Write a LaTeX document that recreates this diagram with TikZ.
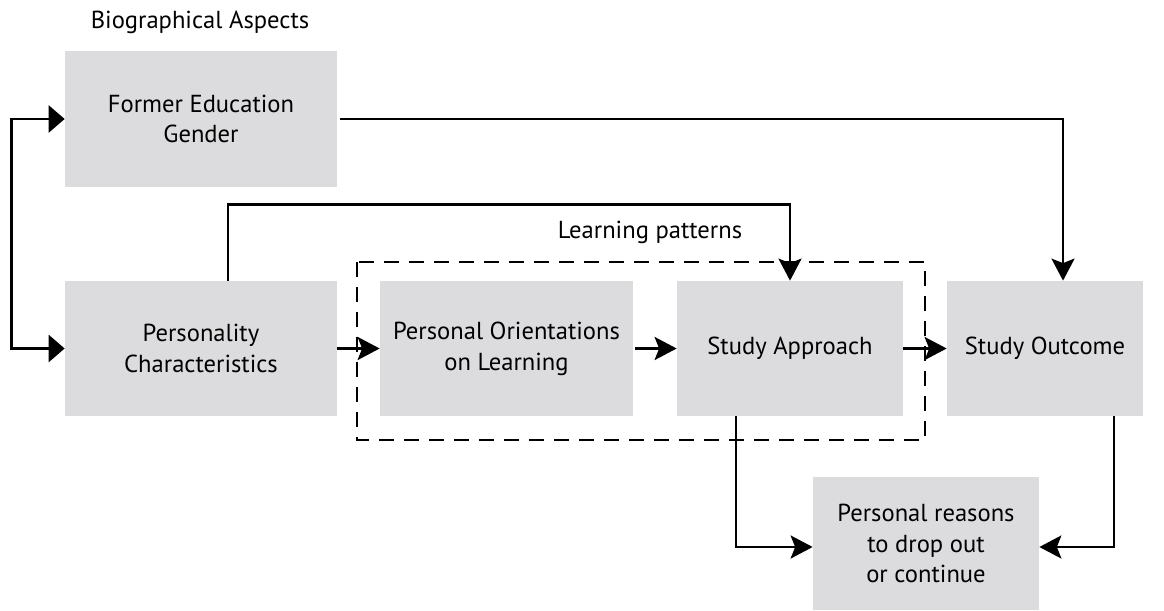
\documentclass[tikz,border=0pt]{standalone}
\usepackage{fontspec}
\setmainfont{PT Sans}
\usetikzlibrary{arrows.meta}
\definecolor{boxgray}{RGB}{220,220,222}
\tikzset{
  factor/.style={fill=boxgray, align=center, inner sep=0pt, minimum height=27mm},
  link/.style={line width=1.5pt, -{Stealth[length=4.4mm,width=4.6mm,inset=0.9mm]}},
  caption/.style={inner sep=0pt}
}
\begin{document}
\begin{tikzpicture}[x=0.2mm, y=-0.2mm, font=\fontsize{14}{17.5}\selectfont]
    \useasboundingbox (0,0) rectangle (1164,610);
    % boxes
    \node[factor, minimum width=54.4mm] (former) at (201,119) {Former Education\\Gender};
    \node[factor, minimum width=54.4mm] (person) at (201,348.5) {Personality\\Characteristics};
    \node[factor, minimum width=50.6mm] (orient) at (506.5,348.5) {Personal Orientations\\on Learning};
    \node[factor, minimum width=45.2mm] (approach) at (790,348.5) {Study Approach};
    \node[factor, minimum width=39.2mm] (outcome) at (1045,348.5) {Study Outcome};
    \node[factor, minimum width=45.2mm, minimum height=26.6mm] (reasons) at (926,543.5) {Personal reasons\\to drop out\\or continue};
    % labels
    \node[caption] (bio) at (200,22) {Biographical Aspects};
    \node[caption] (patterns) at (650,232) {Learning patterns};
    % learning patterns frame
    \draw[line width=1.5pt, dash pattern=on 3mm off 2mm] (357,262) rectangle (925,440);
    % biography and personality
    \draw[line width=1.5pt, {Triangle[length=3.2mm,width=5.4mm]}-{Triangle[length=3.2mm,width=5.4mm]}] (former.west) -- ++(-53,0) |- (person.west);
    % direct paths
    \draw[link] ([xshift=0.6mm]former.east) -| ([xshift=3.6mm]outcome.north);
    \draw[link] ([xshift=5.4mm]person.north) -- ++(0,-76) -| (approach.north);
    % main chain
    \draw[link] (person) -- (orient);
    \draw[link] ([xshift=0.4mm]orient.east) -- (approach.west);
    \draw[link] (approach) -- (outcome);
    % drop out
    \draw[link] ([xshift=-10.8mm]approach.south) |- ([yshift=-0.7mm]reasons.west);
    \draw[link] ([xshift=13.8mm]outcome.south) |- ([yshift=-0.7mm]reasons.east);
\end{tikzpicture}
\end{document}
